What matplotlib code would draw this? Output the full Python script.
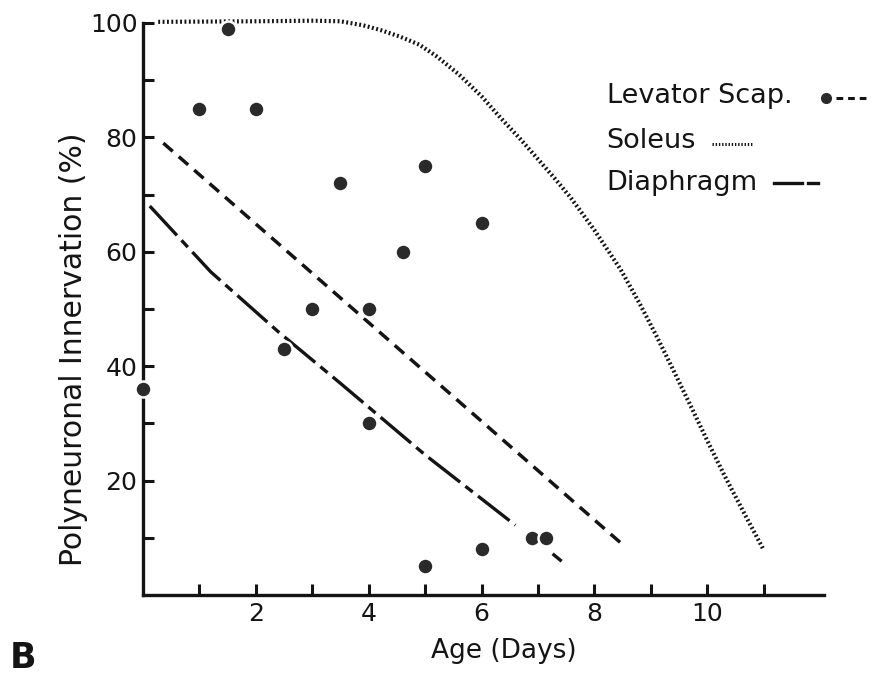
import numpy as np
import matplotlib
matplotlib.use('Agg')
import matplotlib.pyplot as plt
from matplotlib.lines import Line2D

# data
age_pts = [0, 1.5, 1, 2, 3.5, 5, 4.6, 6, 3, 4, 2.5, 4, 5, 6, 6.9, 7.15]
innerv_pts = [36, 99, 85, 85, 72, 75, 60, 65, 50, 50, 43, 30, 5, 8, 10, 10]

levator_x = [0.36, 8.48]
levator_y = [79, 9]

soleus_x = [0.27, 2.0, 3.0, 3.5, 3.9, 4.2, 4.56, 4.9, 5.2, 5.6, 6.0, 6.33, 6.68, 7.0, 7.3,
            7.57, 8.0, 8.46, 8.8, 9.1, 9.4, 9.7, 10.0, 10.3, 10.65, 11.0]
soleus_y = [100.2, 100.3, 100.4, 100.3, 99.6, 98.8, 97.6, 96.2, 94.2, 91.0, 87.2, 83.5, 79.8,
            76.2, 72.8, 69.6, 63.8, 57.0, 51.0, 45.3, 39.3, 33.2, 27.0, 21.0, 14.4, 7.9]

diaphragm_x = [0.12, 1.2, 2.4, 3.5, 5.0, 6.6, np.nan, 7.26, 7.42]
diaphragm_y = [68, 56.5, 46, 37, 24.5, 12.2, np.nan, 7.2, 5.9]

x_major = [2, 4, 6, 8, 10]
x_minor = [1, 3, 5, 7, 9, 11]
y_major = [20, 40, 60, 80, 100]
y_minor = [10, 30, 50, 70, 90]

INK = '#141414'
W, H = 872, 677


def px(x, y):
    # pixel position -> figure fraction
    return x / W, 1 - y / H


def draw_legend(fig):
    fs = 19.5
    fig.text(*px(607, 103), 'Levator Scap.', fontsize=fs, color=INK, va='baseline')
    fig.text(*px(606, 148), 'Soleus', fontsize=fs, color=INK, va='baseline')
    fig.text(*px(606, 190), 'Diaphragm', fontsize=fs, color=INK, va='baseline')

    x0, y0 = px(826, 98)
    fig.add_artist(Line2D([x0], [y0], marker='o', ms=7, color='#2a2a2a',
                          transform=fig.transFigure))
    fig.add_artist(Line2D([px(836, 98)[0], px(868, 98)[0]], [y0, y0], color=INK, lw=2.2,
                          linestyle=(0, (2.2, 1.6)), transform=fig.transFigure))
    ys = px(0, 144)[1]
    fig.add_artist(Line2D([px(712, 0)[0], px(752, 0)[0]], [ys, ys], color=INK, lw=2.2,
                          linestyle=(0, (0.45, 0.6)), transform=fig.transFigure))
    yd = px(0, 183)[1]
    fig.add_artist(Line2D([px(774, 0)[0], px(802, 0)[0]], [yd, yd], color=INK, lw=2.4,
                          transform=fig.transFigure))
    fig.add_artist(Line2D([px(808, 0)[0], px(818, 0)[0]], [yd, yd], color=INK, lw=2.4,
                          transform=fig.transFigure))


def main():
    fig = plt.figure(figsize=(W / 100, H / 100), dpi=100)
    ax = fig.add_axes([143 / W, (H - 595) / H, 681 / W, 572 / H])

    ax.plot(soleus_x, soleus_y, color=INK, lw=3.0, linestyle=(0, (0.45, 0.6)), clip_on=False)
    ax.plot(levator_x, levator_y, color=INK, lw=2.5, linestyle=(0, (3.6, 2.3)))
    ax.plot(diaphragm_x, diaphragm_y, color=INK, lw=2.4, linestyle=(0, (12, 2.0, 2.8, 2.0)))
    ax.plot(age_pts, innerv_pts, 'o', color='#2a2a2a', ms=11.5, mec='white', mew=1.8,
            clip_on=False, zorder=5)

    ax.set_xlim(0, 12.07)
    ax.set_ylim(0, 100)
    for s in ['top', 'right']:
        ax.spines[s].set_visible(False)
    for s in ['left', 'bottom']:
        ax.spines[s].set_linewidth(2.4)
        ax.spines[s].set_color(INK)

    ax.set_xticks(x_major)
    ax.set_xticks(x_minor, minor=True)
    ax.set_yticks(y_major)
    ax.set_yticks(y_minor, minor=True)
    ax.tick_params(which='both', direction='in', length=8, width=2.2, color=INK,
                   labelsize=18, labelcolor=INK)
    ax.tick_params(axis='x', which='major', pad=5)
    ax.tick_params(axis='y', which='major', pad=4)

    ax.set_xlabel('Age (Days)', fontsize=19, color=INK)
    ax.xaxis.set_label_coords(0.53, -0.075)
    ax.set_ylabel('Polyneuronal Innervation (%)', fontsize=21.5, color=INK)
    ax.yaxis.set_label_coords(-0.081, 0.43)

    draw_legend(fig)
    fig.text(*px(10, 668), 'B', fontsize=25, fontweight='bold', color=INK, va='baseline')

    fig.savefig('out.png', dpi=100)


if __name__ == '__main__':
    main()
